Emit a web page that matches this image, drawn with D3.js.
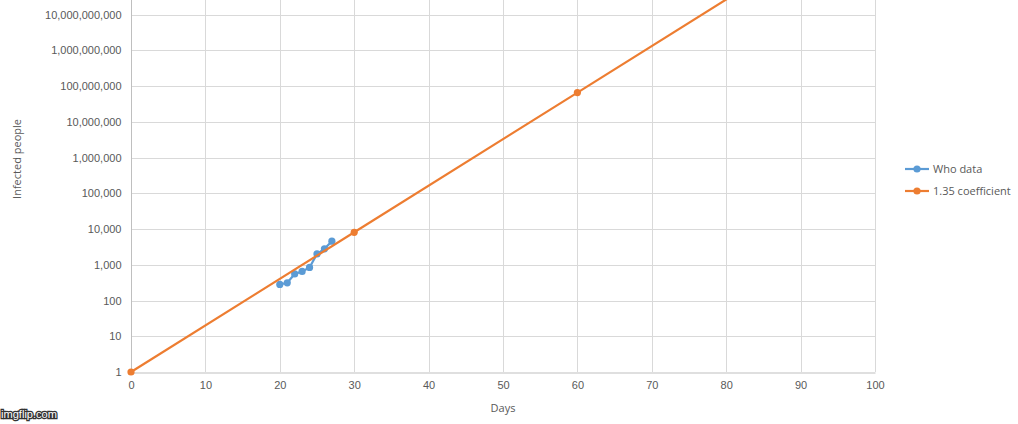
<!DOCTYPE html>
<html>
<head>
<meta charset="utf-8">
<script src="https://cdn.jsdelivr.net/npm/d3@7"></script>
<style>
  body { margin: 0; background: #fff; }
  svg { display: block; font-family: "Open Sans", "DejaVu Sans", sans-serif; }
</style>
</head>
<body>
<div id="chart"></div>
<script>
// WHO reported cases, day index vs count
var whoDays = [20, 21, 22, 23, 24, 25, 26, 27];
var whoValues = [282, 314, 555, 653, 846, 2014, 2798, 4593];

// 1.35 growth coefficient, sampled every 30 days
var coefDays = [0, 30, 60, 90];
var coefValues = [1, 8128, 66060000, 536900000000];

var xTicks = [0, 10, 20, 30, 40, 50, 60, 70, 80, 90, 100];
var yTicks = [1, 10, 100, 1000, 10000, 100000, 1000000, 10000000, 100000000, 1000000000, 10000000000];

var seriesNames = ["Who data", "1.35 coefficient"];
var colors = ["#5b9bd5", "#ed7d31"];

var W = 1018, H = 424;
var margin = {left: 131, right: 143, top: -21, bottom: 52};

var svg = d3.select("#chart").append("svg")
    .attr("width", W)
    .attr("height", H);

var x = d3.scaleLinear().domain([0, 100]).range([margin.left, W - margin.right]);
var y = d3.scaleLog().domain([1, 1e11]).range([H - margin.bottom, margin.top]);

svg.append("defs").append("clipPath").attr("id", "plot")
    .append("rect")
    .attr("x", margin.left - 6).attr("y", 0)
    .attr("width", W - margin.right - margin.left + 12)
    .attr("height", H - margin.bottom + 6);

var fmt = d3.format(",");

// gridlines
var grid = svg.append("g");
grid.selectAll("line.h").data(yTicks.slice(1)).enter().append("line")
    .attr("x1", x(0)).attr("x2", x(100))
    .attr("y1", function(d) { return Math.round(y(d)) + 0.5; })
    .attr("y2", function(d) { return Math.round(y(d)) + 0.5; })
    .attr("stroke", "#d9d9d9");
grid.selectAll("line.v").data(xTicks.slice(1)).enter().append("line")
    .attr("y1", 0).attr("y2", y(1))
    .attr("x1", function(d) { return Math.round(x(d)) + 0.5; })
    .attr("x2", function(d) { return Math.round(x(d)) + 0.5; })
    .attr("stroke", "#d9d9d9");

// axes
var xAxis = svg.append("g")
    .attr("transform", "translate(0," + (Math.round(y(1)) + 0.5) + ")")
    .call(d3.axisBottom(x).tickValues(xTicks).tickSize(0).tickPadding(9));
xAxis.select(".domain").attr("stroke", "#bfbfbf");
xAxis.selectAll("text").attr("fill", "#595959").style("font-size", "11px");

var yAxis = svg.append("g")
    .attr("transform", "translate(" + (Math.round(x(0)) + 0.5) + ",0)")
    .call(d3.axisLeft(y).tickValues(yTicks).tickFormat(fmt).tickSize(0).tickPadding(10));
yAxis.select(".domain").attr("stroke", "#bfbfbf").attr("d", "M0,0V" + (Math.round(y(1)) + 0.5));
yAxis.selectAll("text").attr("fill", "#595959").style("font-size", "11px");

svg.append("text")
    .attr("x", x(50)).attr("y", 412)
    .attr("text-anchor", "middle")
    .attr("fill", "#595959").style("font-size", "11px")
    .text("Days");

svg.append("text")
    .attr("transform", "translate(21,159) rotate(-90)")
    .attr("text-anchor", "middle")
    .attr("fill", "#595959").style("font-size", "11px")
    .text("Infected people");

// series
var line = d3.line()
    .x(function(d) { return x(d[0]); })
    .y(function(d) { return y(d[1]); });

var series = [d3.zip(whoDays, whoValues), d3.zip(coefDays, coefValues)];
var plot = svg.append("g").attr("clip-path", "url(#plot)");

series.forEach(function(s, i) {
    plot.append("path")
        .datum(s)
        .attr("d", line)
        .attr("fill", "none")
        .attr("stroke", colors[i])
        .attr("stroke-width", 2.2);
    plot.selectAll("circle.s" + i).data(s).enter().append("circle")
        .attr("cx", function(d) { return x(d[0]); })
        .attr("cy", function(d) { return y(d[1]); })
        .attr("r", 3.6)
        .attr("fill", colors[i]);
});

// legend
var legend = svg.append("g").attr("transform", "translate(905,169)");
seriesNames.forEach(function(name, i) {
    var g = legend.append("g").attr("transform", "translate(0," + (i * 22) + ")");
    g.append("line").attr("x1", 0).attr("x2", 24).attr("y1", 0).attr("y2", 0)
        .attr("stroke", colors[i]).attr("stroke-width", 2.2);
    g.append("circle").attr("cx", 12).attr("cy", 0).attr("r", 3.6).attr("fill", colors[i]);
    g.append("text").attr("x", 28).attr("y", 4)
        .attr("fill", "#595959").style("font-size", "11px")
        .text(name);
});

// watermark
svg.append("text")
    .attr("x", 1).attr("y", 418)
    .attr("fill", "#fff").attr("stroke", "#333").attr("stroke-width", 2.5)
    .attr("paint-order", "stroke")
    .style("font-size", "11px").style("font-family", "Liberation Sans, Arial, sans-serif")
    .attr("textLength", 56).attr("lengthAdjust", "spacingAndGlyphs")
    .text("imgflip.com");
</script>
</body>
</html>
